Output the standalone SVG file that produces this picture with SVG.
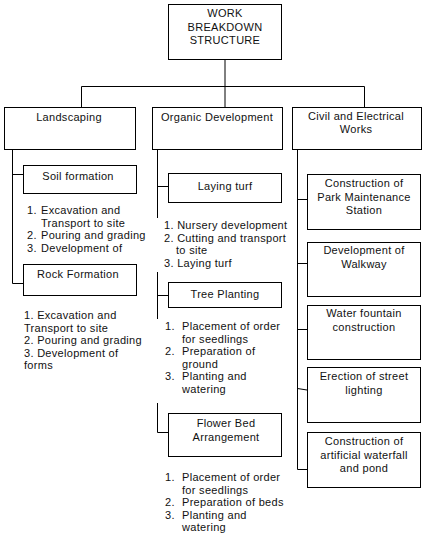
<svg xmlns="http://www.w3.org/2000/svg" width="426" height="539" viewBox="0 0 426 539">
<style>
.box{fill:#fff;stroke:#000;stroke-width:1}
.ln{fill:none;stroke:#000;stroke-width:1}
text{font-family:"Liberation Sans",Arial,sans-serif;font-size:11px;letter-spacing:0.3px;fill:#111}
.c{text-anchor:middle}
.mask{fill:#fff}
</style>
<rect width="426" height="539" fill="#fff"/>
<g id="connectors">
<path class="ln" d="M225 59V107M81.5 86.5H364.5M81.5 86.5V107M364.5 86.5V107"/>
<path class="ln" d="M12.5 149V283.5M12.5 174.5H23M12.5 283.5H23"/>
<path class="ln" d="M157.5 149V432.5M157.5 186.5H168M157.5 295.5H168M157.5 432.5H168"/>
<path class="ln" d="M297.5 149V469.5M297.5 199.5H307M297.5 263.5H307M297.5 329.5H307M297.5 388.5L307 390M297.5 469.5H307"/>
</g>
<g id="root">
<rect class="box" x="168.5" y="4.5" width="113" height="55"/>
<text class="c" x="225" y="17">WORK</text>
<text class="c" x="225" y="30.5">BREAKDOWN</text>
<text class="c" x="225" y="44">STRUCTURE</text>
</g>
<g id="landscaping">
<rect class="box" x="4.5" y="107.5" width="131" height="42"/>
<text class="c" x="69" y="121">Landscaping</text>
</g>
<g id="organic">
<rect class="box" x="152.5" y="107.5" width="130" height="42"/>
<text class="c" x="217" y="121">Organic Development</text>
</g>
<g id="civil">
<rect class="box" x="292.5" y="107.5" width="129" height="42"/>
<text class="c" x="356" y="119.5">Civil and Electrical</text>
<text class="c" x="356" y="132.5">Works</text>
</g>
<g id="soil">
<rect class="box" x="23.5" y="165.5" width="113" height="28"/>
<text class="c" x="78" y="180">Soil formation</text>
<text x="27" y="214">1.</text><text x="41" y="214">Excavation and</text>
<text x="41" y="226.5">Transport to site</text>
<text x="27" y="239">2.</text><text x="41" y="239">Pouring and grading</text>
<text x="27" y="251.5">3.</text><text x="41" y="251.5">Development of</text>
</g>
<g id="rock">
<rect class="box" x="23.5" y="264.5" width="113" height="31"/>
<text class="c" x="78" y="278">Rock Formation</text>
<text x="24" y="319">1. Excavation and</text>
<text x="24" y="331.5">Transport to site</text>
<text x="24" y="344">2. Pouring and grading</text>
<text x="24" y="356.5">3. Development of</text>
<text x="24" y="369">forms</text>
</g>
<g id="laying-turf">
<rect class="box" x="168.5" y="173.5" width="113" height="29"/>
<text class="c" x="225" y="190">Laying turf</text>
<rect class="mask" x="154" y="218" width="134" height="54"/>
<text x="164" y="229">1. Nursery development</text>
<text x="164" y="241.5">2. Cutting and transport</text>
<text x="176" y="254">to site</text>
<text x="164" y="266.5">3. Laying turf</text>
</g>
<g id="tree-planting">
<rect class="box" x="168.5" y="282.5" width="113" height="25"/>
<text class="c" x="225" y="298">Tree Planting</text>
<rect class="mask" x="154" y="319" width="134" height="84"/>
<text x="165" y="330">1.</text><text x="182" y="330">Placement of order</text>
<text x="182" y="342.5">for seedlings</text>
<text x="165" y="355">2.</text><text x="182" y="355">Preparation of</text>
<text x="182" y="367.5">ground</text>
<text x="165" y="380">3.</text><text x="182" y="380">Planting and</text>
<text x="182" y="392.5">watering</text>
</g>
<g id="flower-bed">
<rect class="box" x="168.5" y="413.5" width="113" height="43"/>
<text class="c" x="226" y="427">Flower Bed</text>
<text class="c" x="226" y="441">Arrangement</text>
<text x="165" y="481">1.</text><text x="182" y="481">Placement of order</text>
<text x="182" y="493.5">for seedlings</text>
<text x="165" y="506">2.</text><text x="182" y="506">Preparation of beds</text>
<text x="165" y="518.5">3.</text><text x="182" y="518.5">Planting and</text>
<text x="182" y="531">watering</text>
</g>
<g id="park-station">
<rect class="box" x="307.5" y="174.5" width="113" height="55"/>
<text class="c" x="364" y="187">Construction of</text>
<text class="c" x="364" y="200.5">Park Maintenance</text>
<text class="c" x="364" y="214">Station</text>
</g>
<g id="walkway">
<rect class="box" x="307.5" y="242.5" width="113" height="54"/>
<text class="c" x="364" y="254">Development of</text>
<text class="c" x="364" y="267.5">Walkway</text>
</g>
<g id="fountain">
<rect class="box" x="307.5" y="305.5" width="113" height="54"/>
<text class="c" x="364" y="317">Water fountain</text>
<text class="c" x="364" y="331">construction</text>
</g>
<g id="lighting">
<rect class="box" x="307.5" y="367.5" width="113" height="55"/>
<text class="c" x="364" y="380">Erection of street</text>
<text class="c" x="364" y="393.5">lighting</text>
</g>
<g id="waterfall">
<rect class="box" x="307.5" y="432.5" width="113" height="55"/>
<text class="c" x="364" y="445">Construction of</text>
<text class="c" x="364" y="458.5">artificial waterfall</text>
<text class="c" x="364" y="472">and pond</text>
</g>
</svg>
